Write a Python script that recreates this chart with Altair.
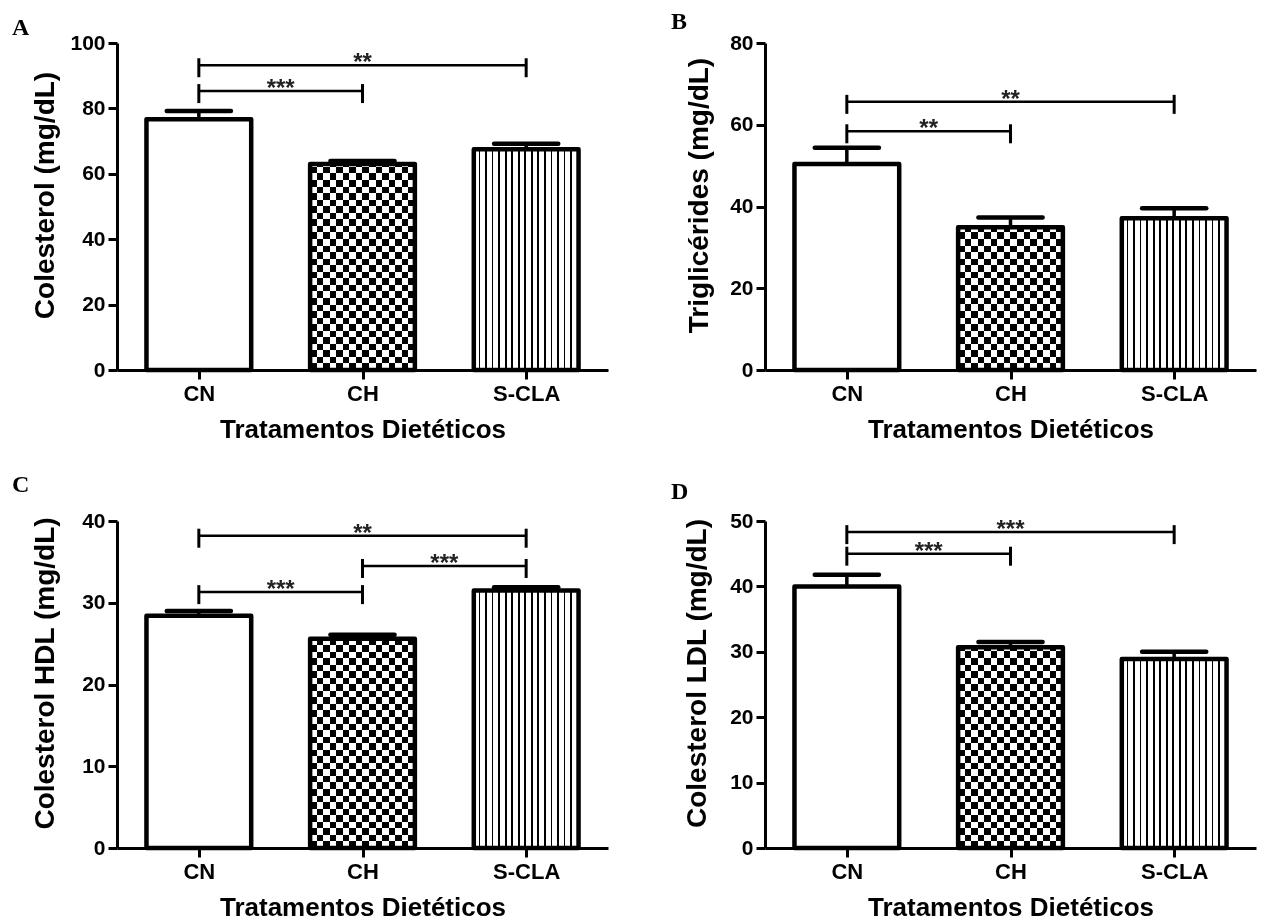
import altair as alt
import pandas as pd

# ---------------- data ----------------
categories = ["CN", "CH", "S-CLA"]
positions = [0, 1, 2]

chol_mean = [76.7, 63.0, 67.5]
chol_sem = [2.5, 0.9, 1.7]
tg_mean = [50.4, 34.9, 37.1]
tg_sem = [4.0, 2.4, 2.5]
hdl_mean = [28.4, 25.6, 31.5]
hdl_sem = [0.6, 0.5, 0.4]
ldl_mean = [40.0, 30.7, 28.9]
ldl_sem = [1.8, 0.8, 1.1]

chol_br_from = ["CN", "CN"]
chol_br_to = ["CH", "S-CLA"]
chol_br_y = [85.3, 93.2]
chol_br_lab = ["***", "**"]

tg_br_from = ["CN", "CN"]
tg_br_to = ["CH", "S-CLA"]
tg_br_y = [58.4, 65.6]
tg_br_lab = ["**", "**"]

hdl_br_from = ["CN", "CH", "CN"]
hdl_br_to = ["CH", "S-CLA", "S-CLA"]
hdl_br_y = [31.3, 34.5, 38.2]
hdl_br_lab = ["***", "***", "**"]

ldl_br_from = ["CN", "CN"]
ldl_br_to = ["CH", "S-CLA"]
ldl_br_y = [45.0, 48.3]
ldl_br_lab = ["***", "***"]

# ---------------- style ----------------
W, H = 491, 327
HALF = 0.32
CAP = 0.196
FONT = "Liberation Sans"


def stripes(n_periods, black_frac, vertical=True):
    stops = []
    k = 0
    while k < n_periods:
        a = k / n_periods
        m = (k + (1 - black_frac)) / n_periods
        b = (k + 1) / n_periods
        stops.append({"offset": min(a, 1.0), "color": "white"})
        stops.append({"offset": min(m, 1.0), "color": "white"})
        stops.append({"offset": min(m, 1.0), "color": "black"})
        stops.append({"offset": min(b, 1.0), "color": "black"})
        k += 1
    g = {"gradient": "linear", "stops": stops}
    if vertical:
        g.update({"x1": 0, "x2": 1, "y1": 0, "y2": 0})
    else:
        g.update({"x1": 0, "x2": 0, "y1": 1, "y2": 0})
    return g


def panel(letter, letter_dx, letter_offset, ytitle, title_x, ymax, ystep,
          means, sems, br_from, br_to, br_y, br_lab):
    df = pd.DataFrame({"cat": categories, "pos": positions,
                       "mean": means, "sem": sems})
    bdf = pd.DataFrame({
        "p1": [categories.index(c) for c in br_from],
        "p2": [categories.index(c) for c in br_to],
        "y": br_y, "lab": br_lab})
    bdf["mid"] = (bdf["p1"] + bdf["p2"]) / 2

    xscale = alt.Scale(domain=[-0.5, 2.5], nice=False, zero=False)
    yscale = alt.Scale(domain=[0, ymax], nice=False)
    label_expr = "[" + ",".join("'%s'" % c for c in categories) + "][datum.value]"
    xaxis = alt.Axis(values=positions, labelExpr=label_expr,
                     title="Tratamentos Dietéticos",
                     labelFontSize=22, labelPadding=4, titlePadding=12,
                     titleFontSize=26)
    yaxis = alt.Axis(values=list(range(0, ymax + 1, ystep)), title=ytitle,
                     labelFontSize=21, labelPadding=3, titleFontSize=28,
                     titleX=title_x, titleY=152, titleBaseline="middle")

    def X(f):
        return alt.X(f, type="quantitative", scale=xscale, axis=xaxis)

    def Y(f):
        return alt.Y(f, type="quantitative", scale=yscale, axis=yaxis)

    base = alt.Chart(df).transform_calculate(
        x0="datum.pos - %f" % HALF, x1="datum.pos + %f" % HALF,
        top="datum.mean + datum.sem",
        c0="datum.pos - %f" % CAP, c1="datum.pos + %f" % CAP)

    def bar_enc(ch):
        return ch.encode(x=X("x0"), x2="x1:Q", y=Y("mean"), y2=alt.datum(0))

    ch_mean = means[categories.index("CH")]
    ch_rows = ch_mean / ymax * H / 13.1

    cn_bar = bar_enc(base.transform_filter("datum.cat == 'CN'")
                     .mark_bar(fill="white"))
    ch_bar1 = bar_enc(base.transform_filter("datum.cat == 'CH'")
                      .mark_bar(fill=stripes(8, 0.5, True)))
    ch_bar2 = bar_enc(base.transform_filter("datum.cat == 'CH'")
                      .mark_bar(fill=stripes(ch_rows, 0.5, False),
                                blend="difference"))
    scla_bar = bar_enc(base.transform_filter("datum.cat == 'S-CLA'")
                       .mark_bar(fill=stripes(16, 0.28, True)))
    outline = bar_enc(base.mark_bar(fillOpacity=0, stroke="black",
                                    strokeWidth=4.5, strokeJoin="round"))

    whisker = base.mark_rule(color="black", strokeWidth=3.5).encode(
        x=X("pos"), y=Y("mean"), y2="top:Q")
    cap = base.mark_rule(color="black", strokeWidth=4.5, strokeCap="round").encode(
        x=X("c0"), x2="c1:Q", y=Y("top"))

    bb = alt.Chart(bdf)
    bline = bb.mark_rule(color="black", strokeWidth=2.5).encode(
        x=X("p1"), x2="p2:Q", y=Y("y"))
    bt1 = bb.mark_tick(orient="vertical", size=19, thickness=3, color="black",
                       yOffset=2.5, opacity=1).encode(x=X("p1"), y=Y("y"))
    bt2 = bb.mark_tick(orient="vertical", size=19, thickness=3, color="black",
                       yOffset=2.5, opacity=1).encode(x=X("p2"), y=Y("y"))
    btext = bb.mark_text(font=FONT, fontSize=24, fontWeight="bold",
                         baseline="alphabetic", dy=5, color="#222").encode(
        x=X("mid"), y=Y("y"), text="lab:N")

    return alt.layer(cn_bar, ch_bar1, ch_bar2, scla_bar, outline, whisker, cap,
                     bline, bt1, bt2, btext).properties(
        width=W, height=H,
        title=alt.Title(letter, anchor="start", frame="group", dx=letter_dx,
                        font="Liberation Serif", fontSize=24, fontWeight="bold",
                        offset=letter_offset))


pA = panel("A", -105, -8, "Colesterol (mg/dL)", -72, 100, 20, chol_mean, chol_sem,
           chol_br_from, chol_br_to, chol_br_y, chol_br_lab)
pB = panel("B", -94, -2, "Triglicérides (mg/dL)", -66, 80, 20, tg_mean, tg_sem,
           tg_br_from, tg_br_to, tg_br_y, tg_br_lab)
pC = panel("C", -105, 13, "Colesterol HDL (mg/dL)", -72, 40, 10, hdl_mean, hdl_sem,
           hdl_br_from, hdl_br_to, hdl_br_y, hdl_br_lab)
pD = panel("D", -94, 6, "Colesterol LDL (mg/dL)", -68, 50, 10, ldl_mean, ldl_sem,
           ldl_br_from, ldl_br_to, ldl_br_y, ldl_br_lab)

chart = alt.vconcat(
    alt.hconcat(pA, pB, spacing=63),
    alt.hconcat(pC, pD, spacing=63),
    spacing=31,
).properties(
    padding={"left": 12, "top": 10, "right": 5, "bottom": 2},
    background="white",
).configure_view(strokeWidth=0).configure_axis(
    grid=False, domainColor="black", domainWidth=3, tickColor="black",
    tickWidth=3, tickSize=9, labelColor="black", titleColor="black",
    labelFont=FONT, titleFont=FONT, labelFontWeight="bold",
    titleFontWeight="bold",
).configure_title(color="black")

chart.save("out.html", embed_options={"renderer": "svg", "actions": False})
